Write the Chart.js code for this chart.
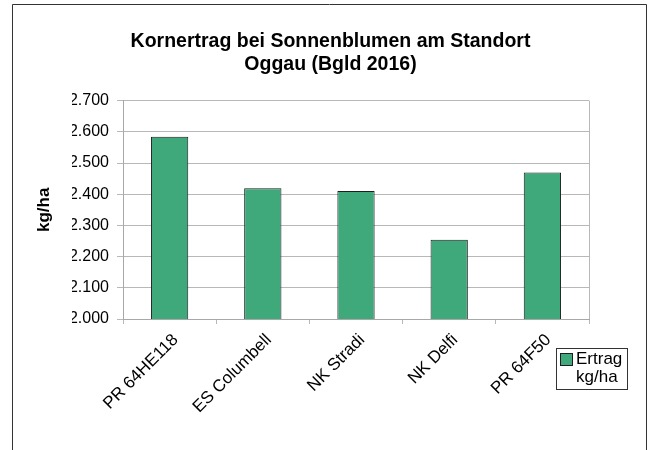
<!DOCTYPE html>
<html>
<head>
<meta charset="utf-8">
<script src="https://cdn.jsdelivr.net/npm/chart.js@4/dist/chart.umd.min.js"></script>
<style>
  html, body { margin: 0; padding: 0; background: #fff; }
  #wrap { width: 656px; height: 450px; }
</style>
</head>
<body>
<div id="wrap"><canvas id="graph" width="656" height="450"></canvas></div>
<script>
// data
const categories = ["PR 64HE118", "ES Columbell", "NK Stradi", "NK Delfi", "PR 64F50"];
const ertrag = [2584, 2419, 2410, 2254, 2470];
const seriesLabel = ["Ertrag", "kg/ha"];
const titleLines = ["Kornertrag bei Sonnenblumen am Standort", "Oggau (Bgld 2016)"];
const yMin = 2000;
const yMax = 2700;
const yStep = 100;

const FONT = "'Liberation Sans', Arial, sans-serif";
const barColor = "#40A97B";
const gridColor = "#b8b8b8";

Chart.defaults.color = "#000";
Chart.defaults.font.family = FONT;

// white background + outer frame like the Excel chart area
const framePlugin = {
  id: "frame",
  beforeDraw(chart) {
    const ctx = chart.ctx;
    ctx.save();
    ctx.fillStyle = "#fff";
    ctx.fillRect(0, 0, chart.width, chart.height);
    ctx.strokeStyle = "#333";
    ctx.lineWidth = 1;
    ctx.beginPath();
    ctx.moveTo(12.5, chart.height);
    ctx.lineTo(12.5, 4.5);
    ctx.lineTo(646.5, 4.5);
    ctx.lineTo(646.5, chart.height);
    ctx.stroke();
    ctx.restore();
  },
  afterDatasetsDraw(chart) {
    // right edge of plot area
    const a = chart.chartArea;
    const ctx = chart.ctx;
    ctx.save();
    ctx.strokeStyle = gridColor;
    ctx.lineWidth = 1;
    ctx.beginPath();
    ctx.moveTo(Math.round(a.right) + 0.5, a.top);
    ctx.lineTo(Math.round(a.right) + 0.5, a.bottom);
    ctx.stroke();
    ctx.restore();
  }
};

// boxed legend with wrapped label, placed bottom right
const boxLegend = {
  id: "boxLegend",
  afterDraw(chart) {
    const ds = chart.data.datasets[0];
    const ctx = chart.ctx;
    const x = 556, y = 348, w = 71, h = 41;
    ctx.save();
    ctx.fillStyle = "#fff";
    ctx.fillRect(x, y, w, h);
    ctx.strokeStyle = "#333";
    ctx.lineWidth = 1;
    ctx.strokeRect(x + 0.5, y + 0.5, w, h);
    ctx.fillStyle = ds.backgroundColor;
    ctx.fillRect(x + 4, y + 5, 12, 12);
    ctx.strokeStyle = ds.borderColor;
    ctx.strokeRect(x + 4.5, y + 5.5, 12, 12);
    ctx.fillStyle = "#000";
    ctx.font = "17px " + FONT;
    ctx.textBaseline = "alphabetic";
    const lines = Array.isArray(ds.label) ? ds.label : [ds.label];
    lines.forEach((t, i) => ctx.fillText(t, x + 20, y + 16 + i * 18));
    ctx.restore();
  }
};

new Chart(document.getElementById("graph").getContext("2d"), {
  type: "bar",
  data: {
    labels: categories,
    datasets: [
      {
        label: seriesLabel,
        data: ertrag,
        backgroundColor: barColor,
        borderColor: "#1e1e1e",
        borderWidth: 1,
        barPercentage: 0.4,
        categoryPercentage: 1
      }
    ]
  },
  options: {
    responsive: false,
    animation: false,
    // left padding keeps the title centred like the original
    layout: { padding: { left: 72, right: 67, top: 0, bottom: 0 } },
    plugins: {
      legend: { display: false },
      tooltip: { enabled: false },
      title: {
        display: true,
        text: titleLines,
        color: "#000",
        font: { size: 19.5, weight: "bold", lineHeight: 1.17 },
        padding: { top: 30, bottom: 25 }
      }
    },
    scales: {
      x: {
        grid: {
          display: true,
          drawOnChartArea: false,
          drawTicks: true,
          tickLength: 5,
          color: gridColor,
          offset: true
        },
        border: { color: "#a8a8a8" },
        ticks: {
          autoSkip: false,
          minRotation: 45,
          maxRotation: 45,
          padding: 6,
          labelOffset: 6,
          font: { size: 17 }
        },
        afterFit(scale) { scale.height = 131; }
      },
      y: {
        min: yMin,
        max: yMax,
        grid: { color: gridColor, tickLength: 6 },
        border: { color: "#a8a8a8" },
        ticks: {
          stepSize: yStep,
          padding: 8,
          font: { size: 16 },
          callback: v => (v / 1000).toFixed(3)
        },
        title: {
          display: true,
          text: "kg/ha",
          font: { size: 17, weight: "bold" },
          padding: { top: -38, bottom: 4 }
        },
        afterFit(scale) { scale.width = 51; }
      }
    }
  },
  plugins: [framePlugin, boxLegend]
});
</script>
</body>
</html>
